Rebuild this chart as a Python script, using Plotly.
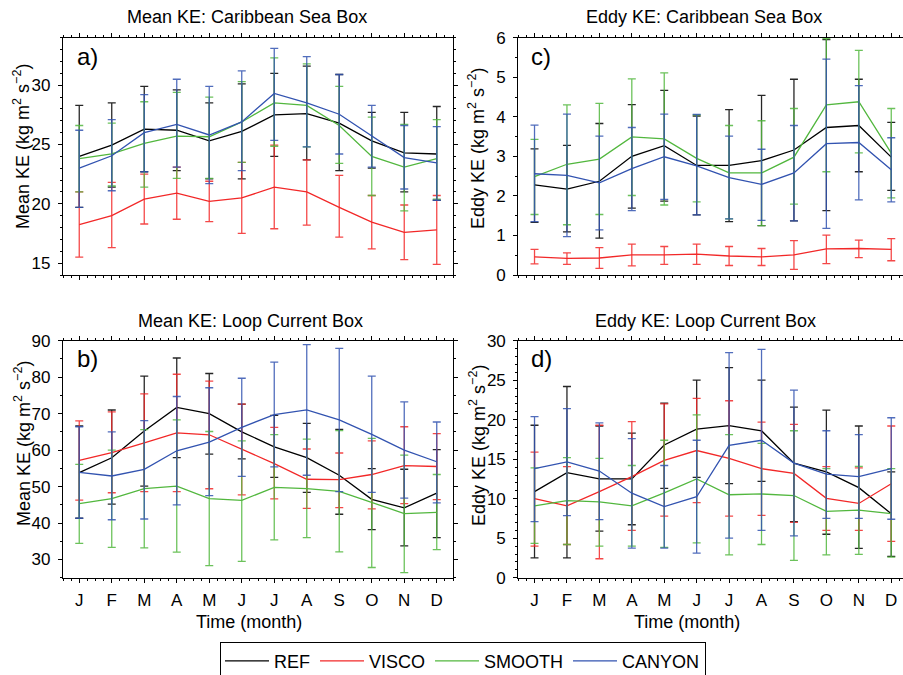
import plotly.graph_objects as go

W, H = 903, 675
MONTHS = ["J", "F", "M", "A", "M", "J", "J", "A", "S", "O", "N", "D"]
SERIES = ["REF", "VISCO", "SMOOTH", "CANYON"]
COLORS = {"REF": "#000000", "VISCO": "#F22828", "SMOOTH": "#52B73E", "CANYON": "#3253B0"}
ERRCOLORS = {"REF": "rgba(0,0,0,0.85)", "VISCO": "rgba(242,40,40,0.85)",
             "SMOOTH": "rgba(82,183,62,0.85)", "CANYON": "rgba(50,83,176,0.85)"}

# ---- Panel a: Mean KE, Caribbean Sea Box ----
A_REF = [24.0, 24.95, 26.3, 26.2, 25.3, 26.1, 27.5, 27.6, 26.8, 25.3, 24.3, 24.2]
A_REF_HI = [28.3, 28.5, 29.9, 29.6, 28.5, 30.1, 31.0, 31.6, 30.9, 27.7, 27.7, 28.2]
A_REF_LO = [19.7, 21.4, 22.7, 22.8, 22.1, 22.1, 24.0, 23.7, 22.8, 23.0, 21.0, 20.3]
A_VISCO = [18.25, 19.0, 20.4, 20.9, 20.2, 20.5, 21.4, 21.0, 19.7, 18.45, 17.6, 17.8]
A_VISCO_HI = [21.0, 21.8, 22.5, 23.1, 21.9, 23.5, 24.95, 23.7, 22.4, 20.7, 19.9, 20.7]
A_VISCO_LO = [15.5, 16.3, 18.3, 18.7, 18.5, 17.5, 17.9, 18.2, 17.2, 16.2, 15.3, 14.9]
A_SMOOTH = [23.8, 24.2, 25.1, 25.7, 25.65, 26.9, 28.5, 28.3, 26.6, 24.0, 23.1, 23.8]
A_SMOOTH_HI = [26.6, 26.8, 28.6, 29.4, 29.0, 30.3, 32.3, 31.8, 29.9, 27.3, 26.7, 27.1]
A_SMOOTH_LO = [21.0, 21.5, 21.4, 22.15, 22.15, 23.5, 24.85, 24.8, 23.4, 20.7, 19.4, 20.4]
A_CANYON = [23.0, 24.05, 26.0, 26.7, 25.8, 26.9, 29.3, 28.5, 27.55, 25.7, 23.9, 23.45]
A_CANYON_HI = [26.2, 27.1, 29.2, 30.5, 29.9, 31.2, 33.1, 32.4, 30.9, 28.3, 26.6, 26.5]
A_CANYON_LO = [19.7, 21.1, 22.7, 23.1, 21.7, 22.8, 25.35, 24.8, 24.2, 23.1, 21.25, 20.3]

# ---- Panel c: Eddy KE, Caribbean Sea Box ----
C_REF = [2.28, 2.17, 2.37, 3.0, 3.27, 2.77, 2.77, 2.89, 3.16, 3.73, 3.78, 2.98]
C_REF_HI = [3.19, 3.28, 3.83, 4.31, 4.67, 4.02, 4.18, 4.54, 4.95, 5.95, 4.95, 3.86]
C_REF_LO = [1.33, 1.09, 0.93, 1.69, 1.87, 1.52, 1.35, 1.25, 1.37, 1.63, 2.61, 2.14]
C_VISCO = [0.46, 0.42, 0.43, 0.51, 0.51, 0.53, 0.48, 0.46, 0.51, 0.66, 0.67, 0.65]
C_VISCO_HI = [0.65, 0.56, 0.69, 0.78, 0.72, 0.78, 0.72, 0.67, 0.87, 1.01, 0.88, 0.92]
C_VISCO_LO = [0.28, 0.27, 0.17, 0.23, 0.27, 0.27, 0.24, 0.24, 0.14, 0.29, 0.44, 0.36]
C_SMOOTH = [2.49, 2.80, 2.93, 3.49, 3.44, 2.95, 2.58, 2.58, 2.98, 4.30, 4.38, 3.08]
C_SMOOTH_HI = [3.43, 4.30, 4.34, 4.96, 5.11, 4.05, 3.78, 3.90, 4.21, 5.98, 5.68, 4.21]
C_SMOOTH_LO = [1.53, 1.27, 1.53, 2.01, 1.77, 1.85, 1.42, 1.25, 1.79, 2.61, 3.09, 1.95]
C_CANYON = [2.56, 2.52, 2.33, 2.69, 2.99, 2.76, 2.46, 2.29, 2.58, 3.32, 3.35, 2.66]
C_CANYON_HI = [3.79, 4.07, 3.51, 3.73, 4.07, 4.06, 3.51, 3.18, 3.78, 5.46, 4.79, 3.47]
C_CANYON_LO = [1.35, 0.97, 1.14, 1.63, 1.91, 1.52, 1.42, 1.38, 1.37, 1.18, 1.90, 1.85]

# ---- Panel b: Mean KE, Loop Current Box ----
B_REF = [53.8, 57.9, 65.25, 71.7, 70.0, 65.0, 60.9, 57.95, 53.1, 46.5, 44.15, 48.2]
B_REF_HI = [66.6, 71.0, 80.3, 85.25, 81.0, 72.6, 69.5, 67.35, 65.7, 54.9, 54.75, 60.1]
B_REF_LO = [41.3, 45.2, 50.1, 57.95, 58.9, 57.6, 52.5, 48.4, 42.4, 38.2, 33.75, 36.0]
B_VISCO = [57.2, 59.3, 62.0, 64.7, 64.2, 60.2, 56.3, 52.0, 51.9, 53.3, 55.75, 55.5]
B_VISCO_HI = [68.0, 70.5, 75.4, 80.8, 78.9, 72.6, 66.25, 60.3, 59.2, 62.5, 66.4, 64.5]
B_VISCO_LO = [46.3, 48.3, 48.6, 48.6, 49.4, 47.7, 46.6, 44.0, 44.2, 43.9, 45.3, 46.4]
B_SMOOTH = [45.3, 46.7, 49.45, 50.1, 46.7, 46.2, 49.8, 49.45, 48.7, 45.6, 42.6, 42.9]
B_SMOOTH_HI = [56.1, 60.0, 65.6, 68.3, 65.1, 62.5, 64.25, 63.0, 65.35, 63.2, 58.6, 53.3]
B_SMOOTH_LO = [34.4, 33.3, 33.2, 32.0, 28.3, 29.45, 35.4, 36.0, 32.1, 27.8, 26.4, 32.7]
B_CANYON = [53.9, 52.9, 54.7, 59.8, 62.2, 66.25, 69.7, 71.0, 68.3, 64.3, 60.0, 56.8]
B_CANYON_HI = [66.4, 65.0, 68.1, 74.7, 77.1, 79.7, 84.15, 88.9, 87.9, 80.3, 73.2, 67.7]
B_CANYON_LO = [41.3, 40.9, 41.1, 45.0, 47.5, 52.8, 55.4, 53.1, 48.6, 48.4, 46.8, 45.5]

# ---- Panel d: Eddy KE, Loop Current Box ----
D_REF = [10.9, 13.3, 12.5, 12.5, 16.8, 18.8, 19.25, 18.6, 14.5, 13.4, 11.4, 8.1]
D_REF_HI = [19.3, 24.2, 19.2, 18.3, 22.1, 25.0, 26.6, 25.0, 21.6, 21.2, 19.2, 13.4]
D_REF_LO = [2.5, 2.5, 5.9, 6.7, 11.3, 12.7, 11.9, 12.2, 7.1, 5.5, 3.7, 2.7]
D_VISCO = [10.0, 9.1, 10.9, 12.8, 14.85, 16.1, 15.1, 13.8, 13.2, 10.05, 9.4, 11.9]
D_VISCO_HI = [15.9, 14.05, 19.3, 19.75, 22.0, 22.7, 22.4, 19.7, 19.4, 14.05, 13.9, 19.2]
D_VISCO_LO = [4.0, 4.2, 2.4, 6.0, 7.8, 9.5, 7.8, 7.9, 7.0, 6.0, 6.0, 4.6]
D_SMOOTH = [9.1, 9.75, 9.6, 9.1, 10.75, 12.5, 10.5, 10.6, 10.4, 8.4, 8.55, 8.1]
D_SMOOTH_HI = [13.9, 15.2, 15.1, 14.2, 17.4, 20.6, 18.1, 17.0, 18.6, 13.8, 14.1, 13.8]
D_SMOOTH_LO = [4.35, 4.2, 4.0, 4.0, 3.85, 4.4, 2.9, 4.2, 2.2, 2.9, 2.95, 2.6]
D_CANYON = [13.8, 14.65, 13.5, 10.7, 9.0, 10.25, 16.75, 17.4, 14.5, 13.1, 12.8, 13.8]
D_CANYON_HI = [20.4, 21.4, 19.6, 17.6, 14.2, 17.4, 28.5, 28.9, 23.75, 18.6, 18.1, 20.25]
D_CANYON_LO = [7.1, 7.85, 7.35, 3.75, 3.75, 3.1, 5.0, 6.0, 5.3, 7.5, 7.5, 7.4]

TITLES = ["Mean KE: Caribbean Sea Box", "Eddy KE: Caribbean Sea Box",
          "Mean KE: Loop Current Box", "Eddy KE: Loop Current Box"]
YTITLES = ["Mean KE (kg m<sup>2</sup> s<sup>\u22122</sup>)",
           "Eddy KE (kg m<sup>2</sup> s<sup>\u22122</sup>)"]

FONT = "Liberation Sans, Arial, Helvetica, sans-serif"
x = list(range(12))


def P(px, py):
    return px / W, 1 - py / H


panel_data = {
    "a": [(A_REF, A_REF_HI, A_REF_LO), (A_VISCO, A_VISCO_HI, A_VISCO_LO),
          (A_SMOOTH, A_SMOOTH_HI, A_SMOOTH_LO), (A_CANYON, A_CANYON_HI, A_CANYON_LO)],
    "c": [(C_REF, C_REF_HI, C_REF_LO), (C_VISCO, C_VISCO_HI, C_VISCO_LO),
          (C_SMOOTH, C_SMOOTH_HI, C_SMOOTH_LO), (C_CANYON, C_CANYON_HI, C_CANYON_LO)],
    "b": [(B_REF, B_REF_HI, B_REF_LO), (B_VISCO, B_VISCO_HI, B_VISCO_LO),
          (B_SMOOTH, B_SMOOTH_HI, B_SMOOTH_LO), (B_CANYON, B_CANYON_HI, B_CANYON_LO)],
    "d": [(D_REF, D_REF_HI, D_REF_LO), (D_VISCO, D_VISCO_HI, D_VISCO_LO),
          (D_SMOOTH, D_SMOOTH_HI, D_SMOOTH_LO), (D_CANYON, D_CANYON_HI, D_CANYON_LO)],
}
axes_ids = {"a": ("x", "y"), "c": ("x2", "y2"), "b": ("x3", "y3"), "d": ("x4", "y4")}

fig = go.Figure()
for key in ["a", "c", "b", "d"]:
    xa, ya = axes_ids[key]
    for name, (m, hi, lo) in zip(SERIES, panel_data[key]):
        fig.add_trace(go.Scatter(
            x=x, y=m, mode="lines", name=name, xaxis=xa, yaxis=ya,
            legendgroup=name, showlegend=(key == "a"),
            line=dict(color=COLORS[name], width=1.3),
            error_y=dict(type="data", symmetric=False,
                         array=[h - v for h, v in zip(hi, m)],
                         arrayminus=[v - l for v, l in zip(m, lo)],
                         color=ERRCOLORS[name], thickness=1.3, width=4),
        ))

LEFT_X = [63 / W, 453 / W]
RIGHT_X = [518.3 / W, 1.0]
TOP_Y = [1 - 275 / H, 1 - 37.7 / H]
BOT_Y = [1 - 577.7 / H, 1 - 340.7 / H]
RIGHT_XMAX = -0.5 + (903 - 518.3) / 32.43


def xaxis(domain, rng, anchor, labels):
    return dict(domain=domain, range=rng, anchor=anchor,
                tickmode="array", tickvals=x, ticktext=MONTHS, showticklabels=labels,
                ticks="outside", ticklen=4, tickwidth=1, tickcolor="black",
                showline=True, linecolor="black", linewidth=1.2, mirror="ticks",
                showgrid=False, zeroline=False,
                minor=dict(tick0=0, dtick=0.25, ticks="outside", ticklen=2,
                           tickcolor="black", tickwidth=1, showgrid=False),
                tickfont=dict(size=17, color="black"), ticklabelstandoff=3)


def yaxis(domain, rng, dtick, mdtick, anchor, mirror):
    return dict(domain=domain, range=rng, anchor=anchor,
                tick0=0, dtick=dtick,
                ticks="outside", ticklen=4, tickwidth=1, tickcolor="black",
                showline=True, linecolor="black", linewidth=1.2, mirror=mirror,
                showgrid=False, zeroline=False,
                minor=dict(tick0=0, dtick=mdtick, ticks="outside", ticklen=2,
                           tickcolor="black", tickwidth=1, showgrid=False),
                tickfont=dict(size=17, color="black"), ticklabelstandoff=4)


ann = []


def text(px, py, s, size, angle=0, xanchor="center"):
    xx, yy = P(px, py)
    ann.append(dict(x=xx, y=yy, xref="paper", yref="paper", text=s, showarrow=False,
                    font=dict(size=size, color="black", family=FONT),
                    textangle=angle, xanchor=xanchor, yanchor="middle"))


text(247, 17, TITLES[0], 18)
text(703.5, 17, TITLES[1], 18)
text(250, 321, TITLES[2], 18)
text(705, 321, TITLES[3], 18)
text(22, 147, YTITLES[0], 18, -90)
text(477, 149, YTITLES[1], 18, -90)
text(22, 444, YTITLES[0], 18, -90)
text(477, 446, YTITLES[1], 18, -90)
text(249, 622, "Time (month)", 18)
text(687, 622, "Time (month)", 18)
text(75, 57, "a)", 24, xanchor="left")
text(529, 57, "c)", 24, xanchor="left")
text(75, 359, "b)", 24, xanchor="left")
text(529, 359, "d)", 24, xanchor="left")

fig.update_layout(
    width=W, height=H,
    margin=dict(l=0, r=0, t=0, b=0, autoexpand=False),
    paper_bgcolor="white", plot_bgcolor="white",
    font=dict(family=FONT, color="black", size=17),
    xaxis=xaxis(LEFT_X, [-0.5, 11.5], "y", False),
    yaxis=yaxis(TOP_Y, [14, 34], 5, 1, "x", "ticks"),
    xaxis2=xaxis(RIGHT_X, [-0.5, RIGHT_XMAX], "y2", False),
    yaxis2=yaxis(TOP_Y, [0, 6], 1, 0.5, "x2", False),
    xaxis3=xaxis(LEFT_X, [-0.5, 11.5], "y3", True),
    yaxis3=yaxis(BOT_Y, [25, 90], 10, 5, "x3", "ticks"),
    xaxis4=xaxis(RIGHT_X, [-0.5, RIGHT_XMAX], "y4", True),
    yaxis4=yaxis(BOT_Y, [0, 30], 5, 1, "x4", False),
    annotations=ann,
    legend=dict(orientation="h", x=220 / W, xanchor="left", y=1 - 641.7 / H, yanchor="top",
                bordercolor="black", borderwidth=1, bgcolor="white",
                font=dict(size=18, color="black", family=FONT),
                itemwidth=44, tracegroupgap=0),
)

fig.write_html("out.html",
               config={"displayModeBar": False},
               post_script="document.body.style.margin='0';"
                           "document.body.style.overflow='hidden';")
